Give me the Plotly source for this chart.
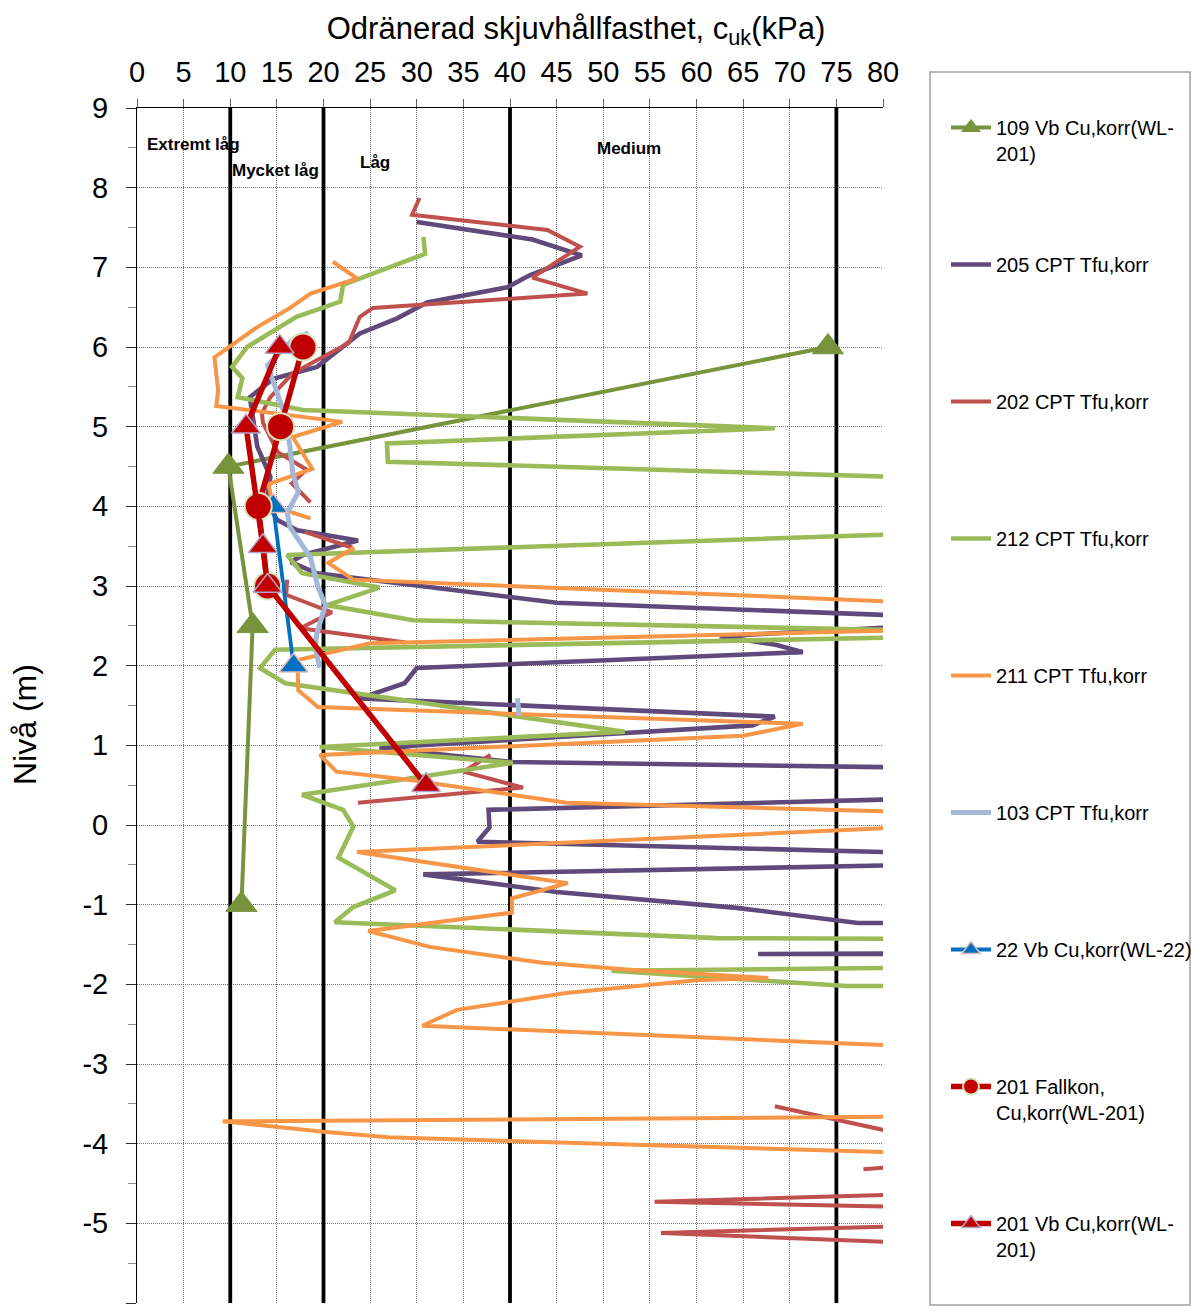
import plotly.graph_objects as go

# ---------------------------------------------------------------------------
# Undrained shear strength (kPa) versus level (m)
# Values beyond 80 kPa run off the right edge of the chart.
# ---------------------------------------------------------------------------

# Strength class limits (kPa) and class names
class_limits = [10, 20, 40, 75]
class_names = ["Extremt låg", "Mycket låg", "Låg", "Medium"]

# Axis ticks
x_ticks = list(range(0, 81, 5))
y_ticks = list(range(-6, 10))

# 109 Vb Cu,korr (WL-201)
vb109_cu = [74.1, 9.8, 12.4, 11.2]
vb109_level = [6.0, 4.5, 2.5, -1.0]

# 205 CPT Tfu,korr
cpt205_cu = [30.0, 42.4, 47.7, 42.1, 39.7, 31.1, 27.9, 23.9, 19.3, 14.6, 12.1,
             12.9, 14.3, 13.9, 15.0, 17.2, 23.7, 17.8, 16.5, 19.3, 45.0, 84,
             84, 62.5, 68.6, 71.4, 30.0, 28.7, 23.9, 68.4, 66.0, 26.0, 40.3, 84,
             84, 37.7, 37.8, 36.5, 84, 84, 30.7, 45.0, 64.3, 74.6, 77.3, 84,
             84, 66.6, 84]
cpt205_level = [7.57, 7.35, 7.15, 6.90, 6.75, 6.56, 6.36, 6.17, 5.75, 5.60, 5.37,
                4.75, 4.37, 4.08, 3.83, 3.70, 3.57, 3.39, 3.30, 3.16, 2.79, 2.62,
                2.50, 2.37, 2.26, 2.17, 1.97, 1.78, 1.59, 1.36, 1.25, 0.97, 0.79, 0.72,
                0.33, 0.19, -0.03, -0.21, -0.35, -0.50, -0.62, -0.84, -1.04, -1.19, -1.23, -1.23,
                -1.61, -1.62, -1.62]

# 202 CPT Tfu,korr
cpt202_cu = [30.3, 29.5, 44.0, 47.5, 42.4, 48.3, 25.3, 23.9, 22.7, 16.7, 14.3,
             13.4, 13.5, 15.1, 18.2, 16.6, 18.6, None,
             18.0, 23.1, None,
             16.1, 16.0, 20.9, 17.5, 28.8, None,
             37.9, 35.0, 41.4, 23.7, None,
             68.4, 84, None,
             77.9, 84, None,
             84, 55.5, 84, None,
             84, 56.2, 84]
cpt202_level = [7.87, 7.66, 7.47, 7.26, 6.87, 6.67, 6.49, 6.38, 6.05, 5.67, 5.37,
                5.17, 5.05, 4.68, 4.46, 4.29, 4.05, None,
                3.68, 3.48, None,
                3.08, 2.89, 2.67, 2.47, 2.29, None,
                0.88, 0.67, 0.47, 0.28, None,
                -3.53, -3.93, None,
                -4.32, -4.27, None,
                -4.63, -4.73, -4.80, None,
                -5.03, -5.12, -5.25]

# 212 CPT Tfu,korr
cpt212_cu = [30.7, 30.9, 22.1, 21.8, 17.1, 11.8, 10.2, 11.3, 10.8, 17.8, 68.4,
             26.8, 26.9, 84, 84, 16.1, 17.7, 26.0, 20.4, 29.6, 84, 84, 14.8,
             13.2, 15.9, 52.3, 19.6, 40.3, 17.7, 22.1, 23.2, 21.6, 27.7, 23.2,
             21.2, 62.2, 84, 84, 50.9, 76.1, 84]
cpt212_level = [7.38, 7.17, 6.78, 6.57, 6.38, 6.00, 5.75, 5.61, 5.37, 5.21, 4.98,
                4.79, 4.56, 4.36, 3.66, 3.39, 3.16, 2.98, 2.76, 2.57, 2.44, 2.36, 2.20,
                1.97, 1.78, 1.17, 0.98, 0.78, 0.38, 0.19, -0.02, -0.41, -0.82, -1.03,
                -1.22, -1.42, -1.43, -1.79, -1.83, -2.02, -2.02]

# 211 CPT Tfu,korr
cpt211_cu = [21.0, 23.6, 18.6, 16.4, 12.9, 8.3, 8.7, 8.5, 22.0, 16.7, 18.8,
             14.1, 14.6, 18.6, None,
             23.3, 20.5, 23.2, 84, 84, 25.0, 17.2, 17.3, 19.4, 71.4, 65.0,
             19.6, 21.4, 28.9, 46.1, 84, 84, 23.6, 46.2, 40.2, 40.2, 24.8,
             31.4, 43.5, 53.2, 67.7, 60.0, 46.0, 34.3, 30.6, 84, 84, 9.2,
             20.0, 26.9, 84]
cpt211_level = [7.07, 6.86, 6.67, 6.49, 6.25, 5.87, 5.46, 5.26, 5.06, 4.87, 4.47,
                4.28, 4.00, 3.85, None,
                3.48, 3.29, 3.08, 2.79, 2.45, 2.28, 2.07, 1.69, 1.48, 1.27, 1.12,
                0.88, 0.67, 0.57, 0.28, 0.16, -0.02, -0.34, -0.73, -0.92, -1.10, -1.33,
                -1.53, -1.73, -1.82, -1.92, -1.95, -2.11, -2.32, -2.52, -2.78, -3.66, -3.72,
                -3.85, -3.92, -4.12]

# 103 CPT Tfu,korr
cpt103_cu = [18.4, 16.7, 14.0, 15.7, 16.4, 16.7, 17.3, 16.1, 16.4, 18.6, 19.4,
             20.2, 19.3, 19.1, 19.6, None, 40.8, 41.0]
cpt103_level = [6.18, 6.09, 5.77, 5.20, 4.75, 4.42, 4.18, 3.92, 3.74, 3.36, 2.99,
                2.76, 2.41, 2.23, 1.97, None, 1.59, 1.37]

# 22 Vb Cu,korr (WL-22)
vb22_cu = [14.6, 16.8]
vb22_level = [4.0, 2.0]

# 201 Fallkon Cu,korr (WL-201)
fk201_cu = [17.8, 15.4, 13.0, 14.0]
fk201_level = [6.0, 5.0, 4.0, 3.0]

# 201 Vb Cu,korr (WL-201)
vb201_cu = [15.3, 11.7, 13.5, 14.0, 31.0]
vb201_level = [6.0, 5.0, 3.5, 3.0, 0.5]

Y_MIN, Y_MAX = -6, 9
X_MIN, X_MAX = 0, 80
FONT = "Liberation Sans, Arial, sans-serif"
W, H = 1191, 1315

fig = go.Figure()

# thick black class limits, drawn underneath the measurements
for xv in class_limits:
    fig.add_trace(go.Scatter(
        x=[xv, xv], y=[Y_MIN, Y_MAX], mode="lines",
        line=dict(color="black", width=3.8),
        showlegend=False, hoverinfo="skip"))

series = [
    dict(x=vb109_cu, y=vb109_level, name="109 Vb Cu,korr(WL-<br>201)",
         color="#77933C", width=4,
         marker=dict(symbol="triangle-up", size=27, color="#77933C",
                     line=dict(color="#77933C", width=1))),
    dict(x=cpt205_cu, y=cpt205_level, name="205 CPT Tfu,korr",
         color="#604A7B", width=4.6),
    dict(x=cpt202_cu, y=cpt202_level, name="202 CPT Tfu,korr",
         color="#C0504D", width=4),
    dict(x=cpt212_cu, y=cpt212_level, name="212 CPT Tfu,korr",
         color="#9BBB59", width=4.6),
    dict(x=cpt211_cu, y=cpt211_level, name="211 CPT Tfu,korr",
         color="#F79646", width=4),
    dict(x=cpt103_cu, y=cpt103_level, name="103 CPT Tfu,korr",
         color="#A3B8D8", width=5),
    dict(x=vb22_cu, y=vb22_level, name="22 Vb Cu,korr(WL-22)",
         color="#0070C0", width=3.8,
         marker=dict(symbol="triangle-up", size=25, color="#0070C0",
                     line=dict(color="#E6B9B8", width=1.5))),
    dict(x=fk201_cu, y=fk201_level, name="201 Fallkon,<br>Cu,korr(WL-201)",
         color="#C00000", width=5.5,
         marker=dict(symbol="circle", size=27, color="#C00000",
                     line=dict(color="#D7E4BD", width=2))),
    dict(x=vb201_cu, y=vb201_level, name="201 Vb Cu,korr(WL-<br>201)",
         color="#C00000", width=5.5,
         marker=dict(symbol="triangle-up", size=25, color="#C00000",
                     line=dict(color="#B3A2C7", width=1.5))),
]

# legend entry centres (px from top of the figure)
legend_rows_px = [127, 264, 401, 538, 675, 812, 949, 1086, 1223]
plot_top, plot_bottom, plot_left, plot_right = 108, 1303, 137, 883
plot_h = plot_bottom - plot_top
plot_w = plot_right - plot_left

legend_layouts = {}
for i, (s, row_px) in enumerate(zip(series, legend_rows_px)):
    key = "legend" if i == 0 else f"legend{i + 1}"
    fig.add_trace(go.Scatter(
        x=s["x"], y=s["y"], name=s["name"],
        mode="lines+markers" if "marker" in s else "lines",
        line=dict(color=s["color"], width=s["width"]),
        marker=s.get("marker"),
        connectgaps=False,
        legend=key))
    legend_layouts[key] = dict(
        x=(946 - plot_left) / plot_w, xanchor="left",
        y=(plot_bottom - (row_px - 19)) / plot_h, yanchor="top",
        valign="top", bgcolor="rgba(0,0,0,0)", borderwidth=0,
        font=dict(family=FONT, size=20, color="black"),
        itemwidth=40)

# legend frame
fig.add_shape(type="rect", xref="paper", yref="paper",
              x0=(930 - plot_left) / plot_w, x1=(1190 - plot_left) / plot_w,
              y0=(plot_bottom - 1305) / plot_h, y1=(plot_bottom - 72) / plot_h,
              line=dict(color="#A0A0A0", width=1.5), fillcolor="rgba(0,0,0,0)",
              layer="above")

# class name labels
label_x = [0.9, 10.0, 23.7, 49.1]
label_y = [8.54, 8.22, 8.32, 8.49]
for txt, lx, ly in zip(class_names, label_x, label_y):
    fig.add_annotation(x=lx, y=ly, text=f"<b>{txt}</b>", showarrow=False,
                       xanchor="left", yanchor="middle",
                       font=dict(family=FONT, size=17, color="black"))

# vertical axis title
fig.add_annotation(xref="paper", yref="paper",
                   x=(25 - plot_left) / plot_w, y=(plot_bottom - 725) / plot_h,
                   text="Nivå (m)", textangle=-90, showarrow=False,
                   xanchor="center", yanchor="middle",
                   font=dict(family=FONT, size=32, color="black"))

grid_dash = "1px,1px"
fig.update_layout(
    width=W, height=H,
    margin=dict(l=plot_left, r=W - plot_right, t=plot_top,
                b=H - plot_bottom, autoexpand=False),
    paper_bgcolor="white", plot_bgcolor="white",
    font=dict(family=FONT, color="black"),
    showlegend=True,
    title=dict(text="Odränerad skjuvhållfasthet, c<sub>uk</sub>(kPa)",
               font=dict(family=FONT, size=31, color="black"),
               xref="container", yref="container",
               x=576 / W, xanchor="center", y=1 - 28 / H, yanchor="middle"),
    xaxis=dict(
        side="top", range=[X_MIN, X_MAX],
        tickmode="array", tickvals=x_ticks, ticktext=[str(v) for v in x_ticks],
        showgrid=True, gridcolor="#707070", griddash=grid_dash, gridwidth=1,
        zeroline=False, showline=True, linecolor="black", linewidth=1,
        ticks="outside", ticklen=8, tickcolor="#606060",
        tickfont=dict(size=29), ticklabelstandoff=5),
    yaxis=dict(
        range=[Y_MIN, Y_MAX],
        tickmode="array", tickvals=y_ticks, ticktext=[str(v) for v in y_ticks],
        showgrid=True, gridcolor="#707070", griddash=grid_dash, gridwidth=1,
        zeroline=False, showline=True, linecolor="black", linewidth=1,
        ticks="outside", ticklen=10, tickcolor="#303030",
        tickfont=dict(size=29), ticklabelstandoff=12,
        minor=dict(dtick=0.5, ticks="outside", ticklen=8, tickcolor="#909090",
                   showgrid=False)),
    **legend_layouts,
)

fig.write_html("out.html")
